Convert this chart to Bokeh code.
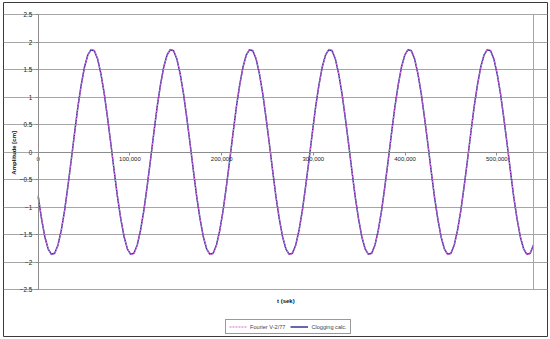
import math
from bokeh.plotting import figure
from bokeh.models import (Range1d, FixedTicker, NumeralTickFormatter, Legend, LegendItem,
                          Label, LinearAxis, ColumnDataSource)
from bokeh.embed import file_html
from bokeh.resources import INLINE

# time axis (seconds), hourly samples
t_sec = list(range(0, 540001, 3600))

clogging = [
    -0.81, -1.21, -1.54, -1.76, -1.86, -1.84, -1.69, -1.42, -1.06, -0.62, -0.15, 0.34,
    0.81, 1.21, 1.54, 1.76, 1.86, 1.84, 1.69, 1.42, 1.06, 0.62, 0.15, -0.34,
    -0.81, -1.21, -1.54, -1.76, -1.86, -1.84, -1.69, -1.42, -1.06, -0.62, -0.15, 0.34,
    0.81, 1.21, 1.54, 1.76, 1.86, 1.84, 1.69, 1.42, 1.06, 0.62, 0.15, -0.34,
    -0.81, -1.21, -1.54, -1.76, -1.86, -1.84, -1.69, -1.42, -1.06, -0.62, -0.15, 0.34,
    0.81, 1.21, 1.54, 1.76, 1.86, 1.84, 1.69, 1.42, 1.06, 0.62, 0.15, -0.34,
    -0.81, -1.21, -1.54, -1.76, -1.86, -1.84, -1.69, -1.42, -1.06, -0.62, -0.15, 0.34,
    0.81, 1.21, 1.54, 1.76, 1.86, 1.84, 1.69, 1.42, 1.06, 0.62, 0.15, -0.34,
    -0.81, -1.21, -1.54, -1.76, -1.86, -1.84, -1.69, -1.42, -1.06, -0.62, -0.15, 0.34,
    0.81, 1.21, 1.54, 1.76, 1.86, 1.84, 1.69, 1.42, 1.06, 0.62, 0.15, -0.34,
    -0.81, -1.21, -1.54, -1.76, -1.86, -1.84, -1.69, -1.42, -1.06, -0.62, -0.15, 0.34,
    0.81, 1.21, 1.54, 1.76, 1.86, 1.84, 1.69, 1.42, 1.06, 0.62, 0.15, -0.34,
    -0.81, -1.21, -1.54, -1.76, -1.86, -1.84, -1.69,
]

fourier = [
    -0.78, -1.20, -1.53, -1.76, -1.87, -1.85, -1.70, -1.43, -1.07, -0.63, -0.16, 0.33,
    0.80, 1.20, 1.53, 1.76, 1.87, 1.85, 1.70, 1.43, 1.07, 0.63, 0.16, -0.33,
    -0.80, -1.20, -1.53, -1.76, -1.87, -1.85, -1.70, -1.43, -1.07, -0.63, -0.16, 0.33,
    0.80, 1.20, 1.53, 1.76, 1.87, 1.85, 1.70, 1.43, 1.07, 0.63, 0.16, -0.33,
    -0.80, -1.20, -1.53, -1.76, -1.87, -1.85, -1.70, -1.43, -1.07, -0.63, -0.16, 0.33,
    0.80, 1.20, 1.53, 1.76, 1.87, 1.85, 1.70, 1.43, 1.07, 0.63, 0.16, -0.33,
    -0.80, -1.20, -1.53, -1.76, -1.87, -1.85, -1.70, -1.43, -1.07, -0.63, -0.16, 0.33,
    0.80, 1.20, 1.53, 1.76, 1.87, 1.85, 1.70, 1.43, 1.07, 0.63, 0.16, -0.33,
    -0.80, -1.20, -1.53, -1.76, -1.87, -1.85, -1.70, -1.43, -1.07, -0.63, -0.16, 0.33,
    0.80, 1.20, 1.53, 1.76, 1.87, 1.85, 1.70, 1.43, 1.07, 0.63, 0.16, -0.33,
    -0.80, -1.20, -1.53, -1.76, -1.87, -1.85, -1.70, -1.43, -1.07, -0.63, -0.16, 0.33,
    0.80, 1.20, 1.53, 1.76, 1.87, 1.85, 1.70, 1.43, 1.07, 0.63, 0.16, -0.33,
    -0.80, -1.20, -1.53, -1.76, -1.87, -1.85, -1.70,
]

x_ticks = [0, 100000, 200000, 300000, 400000, 500000]
y_ticks = [-2.5, -2, -1.5, -1, -0.5, 0, 0.5, 1, 1.5, 2, 2.5]
x_end = 540000

series_names = ["Fourier V-2/77", "Clogging calc."]
x_title = "t (sek)"
y_title = "Amplitude  [cm]"

FONT = "Liberation Sans"
GRID = "#a6a6a6"
AXIS = "#8c8c8c"

# The frame covers the whole chart box; its outline is the chart's outer border.
p = figure(width=550, height=339,
           x_range=Range1d(-37832, 555264), y_range=Range1d(-3.3545, 2.7182),
           output_backend="svg", toolbar_location=None,
           min_border_left=3, min_border_right=3, min_border_top=2, min_border_bottom=3)
p.background_fill_color = "white"
p.border_fill_color = "white"
p.outline_line_color = "#3a3a3a"
p.outline_line_width = 1

src = ColumnDataSource(dict(t=t_sec, c=clogging, f=fourier))
r_c = p.line("t", "c", source=src, line_color="#333399", line_width=1.5)
r_f = p.line("t", "f", source=src, line_color="#dd66dd", line_width=1.1, line_dash="2 1")

# x axis crossing at zero
xa = p.xaxis[0]
xa.fixed_location = 0
xa.bounds = (0, x_end)
xa.ticker = FixedTicker(ticks=x_ticks)
xa.formatter = NumeralTickFormatter(format="0,0")
xa.minor_tick_line_color = None
xa.axis_line_color = AXIS
xa.major_tick_line_color = AXIS
xa.major_tick_in = 0
xa.major_tick_out = 3
xa.major_label_standoff = 2
xa.major_label_text_font = FONT
xa.major_label_text_font_size = "6px"
xa.major_label_text_color = "#222222"

ya = p.yaxis[0]
ya.fixed_location = 0
ya.bounds = (-2.5, 2.5)
ya.ticker = FixedTicker(ticks=y_ticks)
ya.minor_tick_line_color = None
ya.axis_line_color = AXIS
ya.major_tick_line_color = AXIS
ya.major_tick_in = 0
ya.major_tick_out = 3
ya.major_label_standoff = 3
ya.major_label_text_font = FONT
ya.major_label_text_font_size = "6.3px"
ya.major_label_text_color = "#222222"

# right border of the plot area
ra = LinearAxis(fixed_location=x_end, bounds=(-2.5, 2.5), ticker=FixedTicker(ticks=[]),
                axis_line_color=GRID, major_label_text_font_size="0px",
                major_tick_line_color=None, minor_tick_line_color=None)
p.add_layout(ra, "right")

p.xgrid.grid_line_color = None
p.ygrid.grid_line_color = GRID
p.ygrid.ticker = FixedTicker(ticks=y_ticks)
p.ygrid.bounds = (0, x_end)

p.add_layout(Label(x=-26500, y=0, text=y_title, angle=math.pi / 2, text_align="center",
                   text_baseline="middle", text_font=FONT, text_font_size="6px",
                   text_font_style="bold", text_color="#111111"))

p.add_layout(Label(x=x_end / 2, y=-2.7, text=x_title, text_align="center",
                   text_baseline="middle", text_font=FONT, text_font_size="6px",
                   text_font_style="bold", text_color="#111111"))

legend = Legend(items=[LegendItem(label=series_names[0], renderers=[r_f]),
                       LegendItem(label=series_names[1], renderers=[r_c])],
                orientation="horizontal", location=(222, 2),
                label_text_font=FONT, label_text_font_size="5.6px",
                glyph_width=18, glyph_height=7, label_height=7, label_standoff=3,
                spacing=5, padding=3, margin=0,
                border_line_color="#333333", border_line_width=1)
p.add_layout(legend)

open("out.html", "w").write(file_html(p, INLINE))
